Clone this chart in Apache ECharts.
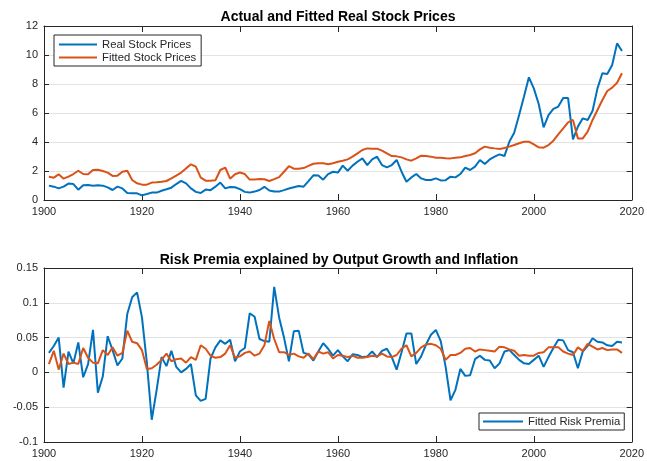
<!DOCTYPE html>
<html>
<head>
<meta charset="utf-8">
<script src="https://cdn.jsdelivr.net/npm/echarts@6/dist/echarts.min.js"></script>
<style>
html,body{margin:0;padding:0;background:#fff;}
#c{width:647px;height:461px;}
</style>
</head>
<body>
<div id="c"></div>
<script>
// Years 1901..2018
const years = Array.from({length: 118}, (_, i) => 1901 + i);

const realStock = [
0.99,0.92,0.80,0.92,1.13,1.10,0.71,1.01,1.03,0.99,
1.01,0.99,0.87,0.69,0.92,0.80,0.48,0.46,0.46,0.32,
0.41,0.51,0.51,0.64,0.74,0.85,1.10,1.32,1.15,0.80,
0.56,0.48,0.72,0.68,0.92,1.20,0.80,0.90,0.88,0.75,
0.56,0.51,0.58,0.69,0.91,0.66,0.58,0.58,0.68,0.79,
0.88,0.97,0.92,1.30,1.70,1.69,1.40,1.79,1.95,1.89,
2.37,2.02,2.37,2.64,2.87,2.41,2.80,2.99,2.41,2.25,
2.41,2.76,1.95,1.26,1.56,1.79,1.49,1.38,1.38,1.49,
1.35,1.37,1.61,1.56,1.79,2.23,2.07,2.30,2.76,2.48,
2.80,2.99,3.15,3.03,4.02,4.64,5.86,7.13,8.46,7.70,
6.62,5.01,5.86,6.28,6.44,7.03,7.03,4.18,5.06,5.63,
5.52,6.16,7.70,8.74,8.69,9.31,10.80,10.28
];
const fittedStock = [
1.61,1.54,1.77,1.47,1.61,1.79,2.02,1.79,1.77,2.07,
2.09,2.00,1.89,1.66,1.68,1.95,2.02,1.38,1.15,1.06,
1.06,1.20,1.22,1.26,1.31,1.49,1.68,1.89,2.18,2.46,
2.30,1.54,1.33,1.33,1.36,2.07,2.24,1.47,1.78,1.90,
1.79,1.41,1.41,1.44,1.43,1.31,1.44,1.58,1.95,2.33,
2.16,2.16,2.20,2.35,2.50,2.54,2.53,2.46,2.53,2.64,
2.71,2.80,2.99,3.22,3.45,3.56,3.54,3.54,3.40,3.22,
3.03,3.01,2.94,2.80,2.71,2.87,3.06,3.03,2.99,2.92,
2.91,2.88,2.87,2.92,2.94,3.03,3.10,3.22,3.49,3.68,
3.61,3.56,3.52,3.59,3.68,3.79,3.91,4.02,4.02,3.84,
3.63,3.61,3.79,4.09,4.53,4.94,5.36,5.52,4.25,4.25,
4.71,5.52,6.21,6.90,7.52,7.75,8.09,8.74
];
const riskPremia = [
0.028,0.038,0.050,-0.022,0.030,0.013,0.043,-0.007,0.012,0.061,
-0.029,-0.006,0.052,0.032,0.010,0.020,0.084,0.108,0.115,0.079,
0.014,-0.068,-0.025,0.022,0.009,0.031,0.008,0.000,0.005,0.012,
-0.033,-0.041,-0.038,0.020,0.036,0.046,0.041,0.047,0.016,0.030,
0.035,0.085,0.080,0.048,0.045,0.044,0.123,0.079,0.050,0.016,
0.059,0.060,0.028,0.026,0.017,0.030,0.042,0.034,0.024,0.032,
0.023,0.016,0.026,0.025,0.022,0.023,0.030,0.022,0.031,0.034,
0.022,0.004,0.029,0.056,0.056,0.012,0.023,0.040,0.054,0.061,
0.045,0.008,-0.040,-0.025,0.005,-0.005,-0.004,0.019,0.024,0.018,
0.017,0.006,0.013,0.030,0.032,0.025,0.018,0.013,0.012,0.018,
0.024,0.008,0.022,0.035,0.047,0.046,0.032,0.029,0.006,0.030,
0.038,0.049,0.044,0.043,0.039,0.038,0.044,0.043
];
const explainedPremia = [
0.012,0.031,0.004,0.027,0.012,0.014,0.012,0.035,0.021,0.014,
0.013,0.032,0.025,0.036,0.024,0.028,0.060,0.044,0.042,0.032,
0.005,0.006,0.011,0.018,0.027,0.016,0.019,0.020,0.014,0.022,
0.018,0.039,0.034,0.024,0.021,0.022,0.027,0.039,0.021,0.023,
0.028,0.030,0.024,0.027,0.039,0.074,0.048,0.029,0.029,0.025,
0.027,0.023,0.021,0.027,0.019,0.030,0.027,0.029,0.020,0.025,
0.024,0.022,0.024,0.021,0.021,0.022,0.024,0.023,0.027,0.023,
0.022,0.025,0.034,0.039,0.023,0.028,0.036,0.040,0.041,0.039,
0.034,0.018,0.025,0.025,0.028,0.034,0.035,0.030,0.033,0.032,
0.031,0.030,0.037,0.036,0.033,0.031,0.024,0.025,0.024,0.024,
0.028,0.029,0.036,0.036,0.036,0.030,0.027,0.025,0.036,0.031,
0.041,0.037,0.033,0.035,0.032,0.033,0.033,0.028
];

const topTitle = 'Actual and Fitted Real Stock Prices';
const bottomTitle = 'Risk Premia explained by Output Growth and Inflation';
const xTicks = {min: 1900, max: 2020, interval: 20};
const topY = {min: 0, max: 12, interval: 2};
const botY = {min: -0.1, max: 0.15, interval: 0.05};

const pairs = (v) => v.map((y, i) => [years[i], y]);

const FONT = "'Liberation Sans', Arial, Helvetica, sans-serif";
const TXT = '#262626';
const AX = '#262626';
const BLUE = '#0072BD';
const ORANGE = '#D95319';
const LINE_ICON = 'path://M0 0H40V2H0Z';

function xAx(grid, pos) {
  const main = pos === 'bottom';
  return {
    type: 'value', gridIndex: grid, position: pos,
    min: xTicks.min, max: xTicks.max, interval: xTicks.interval,
    axisLine: {show: true, onZero: false, lineStyle: {color: AX, width: 1}},
    axisTick: {show: true, inside: true, length: 6, lineStyle: {color: AX}},
    axisLabel: {show: main, color: TXT, fontFamily: FONT, fontSize: 11, margin: 6,
                formatter: v => String(v)},
    splitLine: {show: false}
  };
}
function yAx(grid, pos, cfg, fmt) {
  const main = pos === 'left';
  return {
    type: 'value', gridIndex: grid, position: pos,
    min: cfg.min, max: cfg.max, interval: cfg.interval,
    axisLine: {show: true, onZero: false, lineStyle: {color: AX, width: 1}},
    axisTick: {show: true, inside: true, length: 5, lineStyle: {color: AX}},
    axisLabel: {show: main, color: TXT, fontFamily: FONT, fontSize: 11, margin: 6, formatter: fmt},
    splitLine: {show: main, lineStyle: {color: '#e2e2e2', width: 1}}
  };
}

const chart = echarts.init(document.getElementById('c'), null, {renderer: 'canvas'});
chart.setOption({
  animation: false,
  backgroundColor: '#fff',
  textStyle: {fontFamily: FONT},
  title: [
    {text: topTitle, left: 338, textAlign: 'center', top: 10, padding: 0,
     textStyle: {fontFamily: FONT, fontSize: 14, fontWeight: 'bold', color: '#000'}},
    {text: bottomTitle, left: 339, textAlign: 'center', top: 253, padding: 0,
     textStyle: {fontFamily: FONT, fontSize: 14, fontWeight: 'bold', color: '#000'}}
  ],
  grid: [
    {left: 44, right: 13, top: 26, height: 174},
    {left: 44, right: 13, top: 268, height: 174}
  ],
  xAxis: [xAx(0, 'bottom'), xAx(0, 'top'), xAx(1, 'bottom'), xAx(1, 'top')],
  yAxis: [
    yAx(0, 'left', topY, v => String(v)),
    yAx(0, 'right', topY),
    yAx(1, 'left', botY, v => String(+v.toFixed(2))),
    yAx(1, 'right', botY)
  ],
  legend: [
    {data: [{name: 'Real Stock Prices', icon: LINE_ICON}, {name: 'Fitted Stock Prices', icon: LINE_ICON}],
     orient: 'vertical',
     left: 54, top: 35, padding: [4, 5, 3, 5], itemGap: 2, itemWidth: 38, itemHeight: 14,
     borderColor: AX, borderWidth: 1, backgroundColor: '#fff', selectedMode: false,
     textStyle: {fontFamily: FONT, fontSize: 11.3, color: TXT}},
    {data: [{name: 'Fitted Risk Premia', icon: LINE_ICON}], orient: 'vertical',
     left: 479, top: 413, padding: [3, 4, 3, 4], itemWidth: 40, itemHeight: 14,
     borderColor: AX, borderWidth: 1, backgroundColor: '#fff', selectedMode: false,
     textStyle: {fontFamily: FONT, fontSize: 11.3, color: TXT}}
  ],
  series: [
    {name: 'Real Stock Prices', type: 'line', xAxisIndex: 0, yAxisIndex: 0,
     data: pairs(realStock), symbol: 'none', lineStyle: {color: BLUE, width: 2}, itemStyle: {color: BLUE}},
    {name: 'Fitted Stock Prices', type: 'line', xAxisIndex: 0, yAxisIndex: 0,
     data: pairs(fittedStock), symbol: 'none', lineStyle: {color: ORANGE, width: 2}, itemStyle: {color: ORANGE}},
    {name: 'Fitted Risk Premia', type: 'line', xAxisIndex: 2, yAxisIndex: 2,
     data: pairs(riskPremia), symbol: 'none', lineStyle: {color: BLUE, width: 2}, itemStyle: {color: BLUE}},
    {name: 'Explained by Growth and Inflation', type: 'line', xAxisIndex: 2, yAxisIndex: 2,
     data: pairs(explainedPremia), symbol: 'none', lineStyle: {color: ORANGE, width: 2}, itemStyle: {color: ORANGE}}
  ]
});
</script>
</body>
</html>
